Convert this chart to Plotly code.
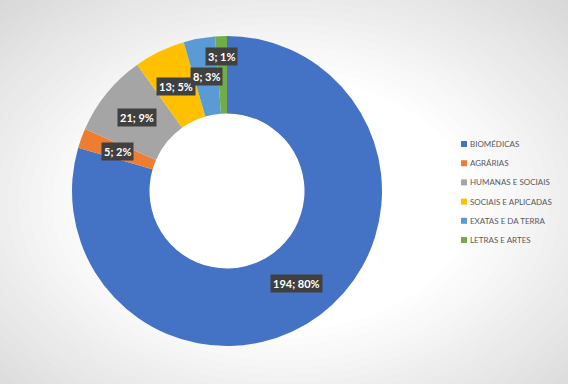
import math
import plotly.graph_objects as go

categories = ["BIOMÉDICAS", "AGRÁRIAS", "HUMANAS E SOCIAIS", "SOCIAIS E APLICADAS",
              "EXATAS E DA TERRA", "LETRAS E ARTES"]
values = [194, 5, 21, 13, 8, 3]
colors = ["#4472C4", "#ED7D31", "#A5A5A5", "#FFC000", "#5B9BD5", "#70AD47"]

W, H = 568, 384
CX, CY, R_OUT, HOLE = 227, 191, 155, 0.5

fig = go.Figure()
fig.add_trace(go.Pie(
    labels=categories, values=values, sort=False, direction="clockwise", rotation=0,
    hole=HOLE, textinfo="none", hoverinfo="label+value+percent",
    marker=dict(colors=colors, line=dict(width=0)), showlegend=False,
    domain=dict(x=[(CX - R_OUT) / W, (CX + R_OUT) / W],
                y=[1 - (CY + R_OUT) / H, 1 - (CY - R_OUT) / H]),
))

# radial gradient background
shapes = []
steps = 24
for i in range(steps):
    t = i / (steps - 1)
    r = 0.78 - t * (0.78 - 0.33)
    g = int(round(0xd4 + (0xff - 0xd4) * t))
    col = f"rgb({g},{g},{g})"
    shapes.append(dict(type="circle", xref="paper", yref="paper", layer="below",
                       x0=0.5 - r, x1=0.5 + r, y0=0.47 - r, y1=0.47 + r,
                       fillcolor=col, line=dict(width=0)))

annotations = []

# data labels
total = sum(values)
r_mid = R_OUT * (1 + HOLE) / 2
extra = [0, 0, 0, 0, 0, 18]
cum = 0
for v, ex in zip(values, extra):
    mid = (cum + v / 2) / total * 2 * math.pi
    cum += v
    rr = r_mid + ex
    px = CX + rr * math.sin(mid)
    py = CY - rr * math.cos(mid)
    pct = round(v / total * 100)
    annotations.append(dict(x=px / W, y=1 - py / H, xref="paper", yref="paper",
                            text=f"<b>{v}; {pct}%</b>", showarrow=False,
                            font=dict(family="Lato", size=11, color="white"),
                            bgcolor="#404040", borderpad=2,
                            xanchor="center", yanchor="middle"))

# legend (drawn as small squares + text, Excel style)
LX, LY, LSTEP = 461, 144, 19.2
for i, (name, col) in enumerate(zip(categories, colors)):
    yy = LY + i * LSTEP
    shapes.append(dict(type="rect", xref="paper", yref="paper",
                       x0=LX / W, x1=(LX + 6) / W,
                       y0=1 - (yy + 3) / H, y1=1 - (yy - 3) / H,
                       fillcolor=col, line=dict(width=0)))
    annotations.append(dict(x=(LX + 7) / W, y=1 - yy / H, xref="paper", yref="paper",
                            text=name, showarrow=False, xanchor="left", yanchor="middle",
                            font=dict(family="Lato", size=8, color="#595959")))

fig.update_layout(
    width=W, height=H, margin=dict(l=0, r=0, t=0, b=0),
    paper_bgcolor="#ffffff",
    shapes=shapes, annotations=annotations,
    showlegend=False,
)
fig.write_html("out.html", config={"displayModeBar": False},
               post_script="document.body.style.margin='0';document.body.style.overflow='hidden';")
